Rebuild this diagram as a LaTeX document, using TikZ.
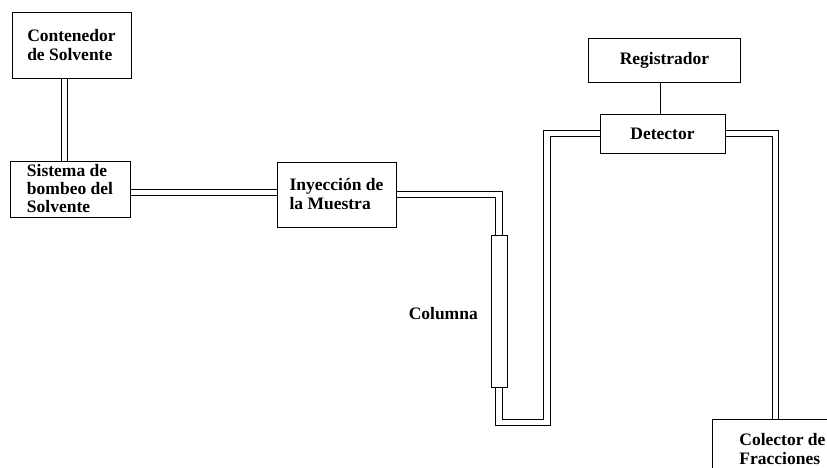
\documentclass[tikz,border=0pt]{standalone}
\usepackage{fontspec}
\setmainfont{Liberation Serif}
\usetikzlibrary{backgrounds}
\tikzset{
	equipo/.style={draw, fill=white, line width=0.8pt, align=left, inner sep=0pt,
		font=\bfseries\fontsize{17.5}{19}\selectfont},
	tubo/.style={double, double distance=5.5pt, line width=0.8pt},
	cable/.style={line width=0.8pt}
}

\begin{document}
\begin{tikzpicture}[x=1pt,y=-1pt]
	\useasboundingbox (0,0) rectangle (827,468);
	\clip (0,0) rectangle (827,468);
	\node[equipo, minimum width=119pt, minimum height=66pt] (contenedor) at (71.5,45) {Contenedor\\de Solvente};
	\node[equipo, minimum width=120pt, minimum height=56pt, font=\bfseries\fontsize{17.5}{18}\selectfont] (bombeo) at (70,189) {Sistema de\\bombeo del\\Solvente};
	\node[equipo, minimum width=119pt, minimum height=65pt] (inyeccion) at (336.5,194.5) {Inyecci\'on de\\la Muestra};
	\node[equipo, minimum width=16pt, minimum height=152pt] (columna) at (499,311.5) {};
	\node[font=\bfseries\fontsize{17.5}{19}\selectfont, anchor=east, inner sep=0pt] (rotulo) at (478,314) {Columna};
	\node[equipo, minimum width=152pt, minimum height=44pt] (registrador) at (664.5,60) {Registrador};
	\node[equipo, minimum width=125pt, minimum height=39pt] (detector) at (662.5,133.5) {Detector};
	\node[equipo, anchor=north west, minimum width=140pt, minimum height=60pt] (colector) at (712,419) {Colector de\\Fracciones};
	\coordinate (codo) at (547,422.5);
	% tuberias
	\begin{scope}[on background layer]
		\draw[tubo] ([xshift=-7pt]contenedor.south) -- ([xshift=-7pt]contenedor.south |- bombeo.north);
		\draw[tubo] ([yshift=-3.5pt]bombeo.east) -- ([yshift=-3.5pt]bombeo.east -| inyeccion.west);
		\draw[tubo] (inyeccion.east) -| (columna.north);
		\draw[tubo] (columna.south) |- (codo) |- (detector.west);
		\draw[tubo] (detector.east) -| ([xshift=-7pt]colector.north);
		\draw[cable] ([xshift=-4pt]registrador.south) -- ([xshift=-4pt]registrador.south |- detector.north);
	\end{scope}
\end{tikzpicture}
\end{document}
